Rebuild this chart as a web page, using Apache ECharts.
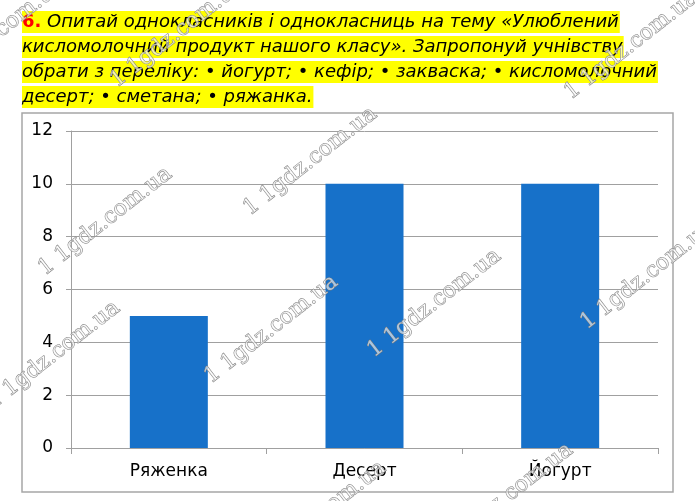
<!DOCTYPE html>
<html><head><meta charset="utf-8">
<script src="https://cdn.jsdelivr.net/npm/echarts@6/dist/echarts.min.js"></script>
<style>html,body{margin:0;padding:0;background:#fff}#c{width:695px;height:501px}</style>
</head><body><div id="c"></div>
<script>
var categories = ['Ряженка', 'Десерт', 'Йогурт'];
var values = [5, 10, 10];
var yTicks = [0, 2, 4, 6, 8, 10, 12];
var headerNumber = '6.';
var headerLines = [
  ' Опитай однокласників і однокласниць на тему «Улюблений',
  'кисломолочний продукт нашого класу». Запропонуй учнівству',
  'обрати з переліку: • йогурт; • кефір; • закваска; • кисломолочний',
  'десерт; • сметана; • ряжанка.'
];
var watermarkText = '1 1gdz.com.ua';
var watermarks = [[253,220],[48,280],[377,362],[214,388],[-4,414],[590,334],[574,104],[449,556],[262,574],[-60,92],[120,92]];

var chart = echarts.init(document.getElementById('c'), null, {renderer:'canvas'});
var font = '"DejaVu Sans", Verdana, sans-serif';
var graphics = [];
graphics.push({type:'rect', shape:{x:22,y:113,width:651,height:379}, style:{fill:'none', stroke:'#a6a6a6', lineWidth:1.5}, z:0});
var lineY = [22.5, 47.5, 72.5, 97.5];
headerLines.forEach(function(t,i){
  var txt = i===0 ? '{n|'+headerNumber+'}{t|'+t+'}' : '{t|'+t+'}';
  graphics.push({type:'text', left:22, top:lineY[i]-11.5, z:10,
    style:{text:txt, backgroundColor:'#ffff00', padding:[2,1,2,0],
      rich:{n:{fill:'#ff0000', fontFamily:font, fontWeight:'bold', fontSize:18},
            t:{fill:'#000', fontFamily:font, fontStyle:'italic', fontSize:18}}}});
});
watermarks.forEach(function(p){
  graphics.push({type:'text', x:p[0], y:p[1], rotation:38*Math.PI/180, z:20,
    style:{text:watermarkText, fontFamily:'"DejaVu Serif", serif', fontSize:22, fill:'rgba(255,255,255,0.6)', stroke:'#7a7a7a', lineWidth:0.8, textVerticalAlign:'bottom'}});
});

chart.setOption({
  animation:false,
  backgroundColor:'#fff',
  grid:{left:71, right:37, top:131, bottom:53, containLabel:false},
  xAxis:{type:'category', data:categories,
    axisLine:{show:true, lineStyle:{color:'#a0a0a0', width:1}},
    axisTick:{show:true, length:6, alignWithLabel:false, lineStyle:{color:'#a0a0a0'}},
    axisLabel:{color:'#000', fontFamily:font, fontSize:17, margin:15}},
  yAxis:{type:'value', min:yTicks[0], max:yTicks[yTicks.length-1], interval:yTicks[1]-yTicks[0],
    axisLine:{show:true, lineStyle:{color:'#a0a0a0', width:1}},
    axisTick:{show:true, length:5, lineStyle:{color:'#a0a0a0'}},
    axisLabel:{color:'#000', fontFamily:font, fontSize:17, margin:18},
    splitLine:{show:true, lineStyle:{color:'#a0a0a0', width:1}}},
  series:[{type:'bar', data:values, barWidth:78, itemStyle:{color:'#1771c9'}}],
  graphic:graphics
});
</script></body></html>
